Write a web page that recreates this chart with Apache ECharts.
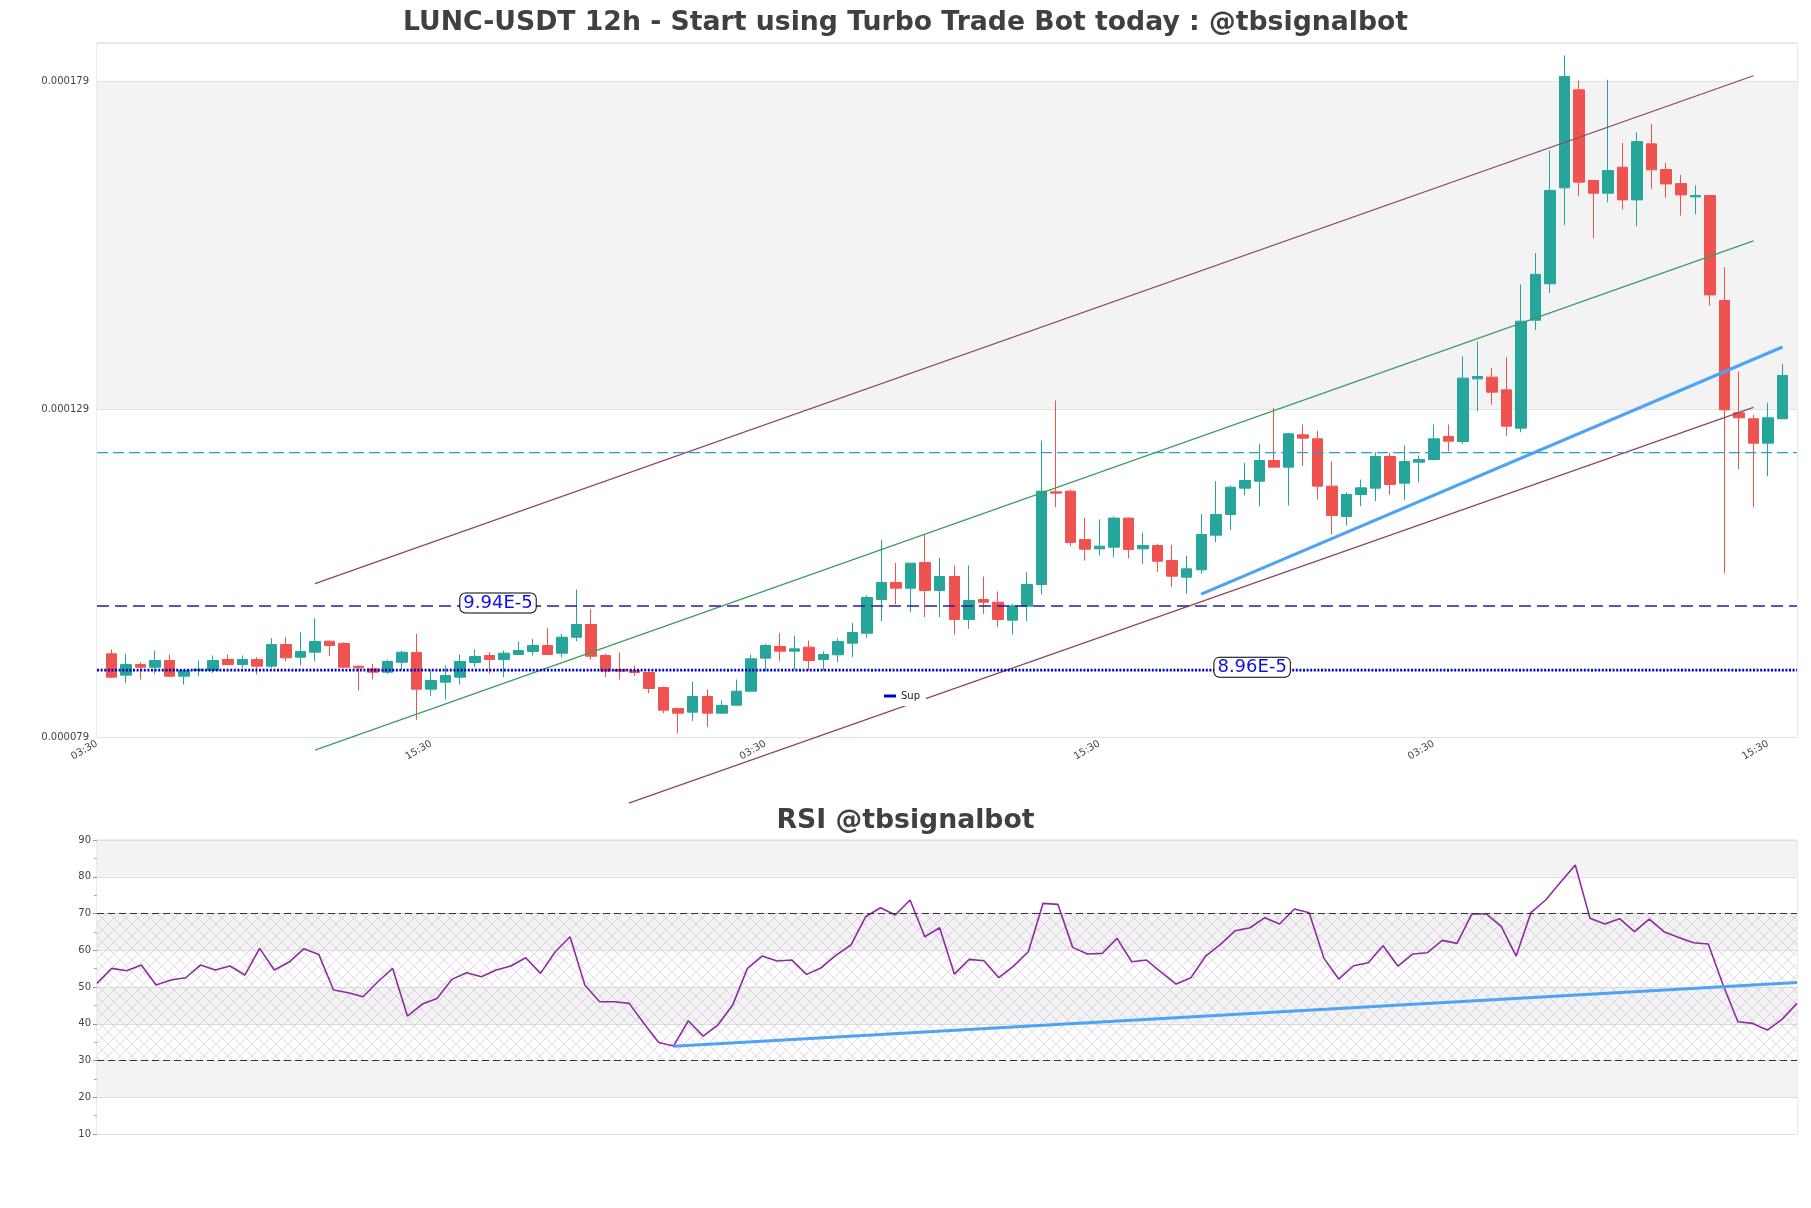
<!DOCTYPE html>
<html><head><meta charset="utf-8">
<script src="https://cdn.jsdelivr.net/npm/echarts@6/dist/echarts.min.js"></script>
<style>html,body{margin:0;padding:0;background:#fff}#c{width:1811px;height:1208px}</style>
</head><body><div id="c"></div>
<script>
// prices in units of 1e-6 USDT
const openE6 = [92.09,88.84,90.46,90.05,91.07,88.68,89.55,89.55,91.23,90.46,
91.23,90.21,93.51,91.58,92.35,94.02,93.67,90.21,89.8,89.29,
90.82,92.29,86.7,87.77,88.53,90.77,91.84,91.23,91.99,92.45,
93.36,92.19,94.63,96.56,91.84,89.7,89.55,89.24,86.95,83.75,
83.19,85.58,83.04,84.26,86.39,91.43,93.21,92.5,93.11,91.23,
91.94,93.72,95.24,100.38,102.98,102.11,106.03,101.76,103.89,97.33,
100.38,99.97,97.23,99.37,102.67,116.81,116.91,109.53,108.11,108.37,
112.8,108.11,108.62,106.33,103.79,104.91,110.2,113.35,117.37,118.44,
121.59,120.58,125.51,124.9,117.68,113.05,116.4,117.37,122.2,118.13,
121.34,121.74,125.26,124.49,134.05,134.31,132.37,126.53,143.0,148.56,
163.2,178.15,164.32,162.38,166.35,161.36,169.91,165.99,163.85,161.82,
162.02,146.0,128.87,127.96,124.24,127.96];
const closeE6 = [88.53,90.46,90.05,91.07,88.68,89.55,89.75,91.07,90.46,91.23,
90.21,93.51,91.48,92.45,93.97,93.36,90.05,89.95,89.29,90.92,
92.34,86.7,88.02,88.78,90.92,91.68,91.23,92.19,92.6,93.36,
91.99,94.63,96.56,91.73,89.45,89.45,89.24,86.8,83.49,83.04,
85.58,83.04,84.21,86.39,91.33,93.36,92.5,92.85,91.07,91.99,
93.97,95.35,100.69,102.98,102.11,105.93,101.76,103.89,97.33,100.23,
99.97,97.33,99.42,102.67,116.91,116.61,109.07,108.06,108.52,112.8,
108.01,108.62,106.23,103.94,105.06,110.3,113.35,117.52,118.54,121.59,
120.58,125.67,125.0,117.68,113.2,116.4,117.42,122.2,117.93,121.44,
121.74,124.9,124.54,134.16,134.41,132.02,126.83,142.85,150.0,162.8,
180.2,164.06,162.38,165.84,161.36,170.26,165.94,163.8,162.12,162.02,
146.86,129.32,128.11,124.24,128.11,134.57];
const lowE6 = [88.43,87.61,88.18,89.04,88.53,87.41,88.68,89.19,90.31,89.95,
88.94,89.95,90.97,90.31,90.97,91.73,89.95,86.5,88.18,89.04,
89.65,82.02,85.63,85.12,87.41,90.06,89.04,88.53,91.94,91.84,
91.99,91.58,94.02,91.23,88.53,88.17,88.73,86.09,83.04,79.98,
81.82,80.9,82.94,84.26,86.39,89.4,90.97,89.7,89.55,89.55,
90.82,91.58,94.53,97.08,99.62,98.45,97.69,97.69,95.04,95.91,
98.19,96.16,95.04,97.08,101.14,114.47,108.52,106.33,107.1,106.84,
106.69,105.82,104.55,102.26,101.25,104.3,109.13,111.0,116.25,114.62,
120.58,114.73,120.73,115.64,110.3,111.65,114.62,115.39,116.4,115.59,
118.29,121.59,122.96,124.14,129.12,130.08,125.31,125.9,141.5,147.14,
157.5,161.87,155.52,160.99,159.87,157.33,163.04,161.67,158.97,159.18,
145.19,104.4,120.3,114.47,119.2,127.96];
const highE6 = [92.75,92.09,90.82,92.6,91.99,89.55,91.07,91.84,91.99,91.84,
91.58,94.48,94.63,95.4,97.53,94.13,93.87,90.31,90.56,91.17,
92.6,95.14,89.7,90.31,91.99,92.75,92.34,92.6,93.97,94.38,
96.0,95.14,101.9,98.9,92.09,92.29,90.31,89.24,87.11,83.75,
87.87,86.65,84.97,88.17,91.99,93.62,95.3,94.89,94.13,92.45,
94.48,96.82,100.99,109.49,105.93,105.93,110.4,106.74,105.57,105.57,
103.89,101.61,99.72,104.55,124.64,130.75,117.16,112.8,112.6,113.05,
112.9,110.56,108.88,108.73,107.07,113.45,118.44,117.78,121.24,124.14,
129.63,125.82,127.09,126.12,121.44,116.76,118.69,122.86,122.76,123.88,
122.35,127.09,127.09,137.46,139.74,135.68,137.36,148.45,153.26,168.9,
183.4,179.58,164.32,179.68,170.06,171.69,172.96,167.0,165.18,163.55,
162.02,151.1,135.2,128.57,130.4,136.35];
const rsiVals = [50.98,55.06,54.43,55.97,50.53,51.89,52.52,55.97,54.61,55.7,
53.25,60.51,54.61,56.79,60.42,58.87,49.17,48.44,47.35,51.43,
55.06,42.09,45.35,46.9,52.07,53.88,52.8,54.61,55.7,57.97,
53.7,59.6,63.68,50.53,45.99,45.99,45.54,40.09,34.92,33.92,
40.82,36.64,39.64,45.08,55.06,58.42,57.06,57.33,53.43,55.25,
58.69,61.42,69.13,71.58,69.58,73.67,63.68,66.13,53.52,57.51,
57.15,52.52,55.7,59.6,72.76,72.49,60.78,58.97,59.15,63.23,
56.88,57.33,53.97,50.8,52.52,58.42,61.6,65.32,66.13,68.86,
67.13,71.22,70.22,57.79,52.16,55.79,56.61,61.23,55.7,58.97,
59.33,62.69,61.87,69.85,69.85,66.41,58.42,70.22,73.67,78.48,
83.19,68.68,67.13,68.58,65.05,68.49,65.05,63.5,62.05,61.69,
50.53,40.54,40.09,38.28,41.27,45.54];
// x tick labels (slot index in padded candle axis)
const xTickIdx = [0, 23, 46, 69, 92, 115];
const xTickLabels = ['03:30','15:30','03:30','15:30','03:30','15:30'];
// lines [candleIndex, price e-6]
const chanUpper = [[14, 102.8], [113, 180.3]];
const chanMid = [[14, 77.4], [113, 155.1]];
const chanLower = [[35.6, 69.3], [113, 129.7]];
const trendBlue = [[75, 101.2], [115, 138.9]];
const resLevel = 99.4;
const supLevel = 89.6;
const midLevel = 122.8;
const rsiTrend = [[39, 33.9], [115, 51.2]];
const rsiBands = [30, 70];

const N = openE6.length;
const candleRows = openE6.map((o, i) => [i + 1, o, closeE6[i], lowE6[i], highE6[i]]);
const xCats = Array.from({length: N + 2}, (_, k) => String(k));
const rsiCats = rsiVals.map((_, i) => String(i));
const yMin = 79.4, yMax = 185.3;
const levelLabelX = [26.6, 78.5];

function makeHatch() {
  const c = document.createElement('canvas'); c.width = 12; c.height = 12;
  const g = c.getContext('2d');
  g.strokeStyle = 'rgba(190,165,205,0.55)'; g.lineWidth = 0.8;
  g.beginPath(); g.moveTo(0, 0); g.lineTo(12, 12); g.moveTo(12, 0); g.lineTo(0, 12); g.stroke();
  return c;
}
const F = 'DejaVu Sans';
const hLine = (v) => [[-1, v], [N, v]];
const lineS = (name, data, color, width, type, extra) => Object.assign({
  name, type: 'line', xAxisIndex: 1, yAxisIndex: 0, data, symbol: 'none', silent: true,
  clip: false, color, lineStyle: {color, width, type: type || 'solid'}, z: 3, animation: false
}, extra || {});

const chart = echarts.init(document.getElementById('c'), null, {renderer: 'canvas'});
chart.setOption({
  animation: false,
  backgroundColor: '#ffffff',
  textStyle: {fontFamily: F},
  title: [
    {text: 'LUNC-USDT 12h - Start using Turbo Trade Bot today : @tbsignalbot', left: 'center', top: 10,
     padding: 0, textStyle: {fontFamily: F, fontWeight: 'bold', fontSize: 26.7, color: '#404040'}},
    {text: 'RSI @tbsignalbot', left: 'center', top: 808, padding: 0,
     textStyle: {fontFamily: F, fontWeight: 'bold', fontSize: 26.7, color: '#404040'}}
  ],
  legend: {data: [{name: 'Sup', icon: 'rect'}], left: 878, top: 686, itemWidth: 12, itemHeight: 3,
    backgroundColor: '#ffffff', padding: [5, 6], selectedMode: false,
    textStyle: {fontFamily: F, fontSize: 10, color: '#222'}},
  grid: [
    {left: 97, right: 14, top: 43, height: 694, show: true, borderColor: '#d6d6d6', borderWidth: 1},
    {left: 97, right: 14, top: 840, height: 294, show: true, borderColor: '#d6d6d6', borderWidth: 1}
  ],
  xAxis: [
    {type: 'category', gridIndex: 0, data: xCats, boundaryGap: false,
     axisLine: {show: false}, axisTick: {show: false}, splitLine: {show: false},
     axisLabel: {interval: (i) => xTickIdx.includes(i),
       formatter: (v, i) => { const k = xTickIdx.indexOf(i); return k < 0 ? '' : xTickLabels[k]; },
       rotate: 30, fontSize: 10, color: '#444', margin: 6, fontFamily: F}},
    {type: 'value', gridIndex: 0, min: -1, max: N, show: false},
    {type: 'category', gridIndex: 1, data: rsiCats, boundaryGap: false,
     axisLine: {show: false}, axisTick: {show: false}, axisLabel: {show: false}, splitLine: {show: false}}
  ],
  yAxis: [
    {type: 'value', gridIndex: 0, min: yMin, max: yMax, interval: 50,
     axisLine: {show: false}, axisTick: {show: false},
     axisLabel: {formatter: (v) => v > yMax - 0.5 ? '' : (v * 1e-6).toFixed(6), fontSize: 10, color: '#444', fontFamily: F, margin: 8},
     splitLine: {show: true, lineStyle: {color: '#e2e2e2', width: 1}},
     splitArea: {show: true, areaStyle: {color: ['#ffffff', '#f3f3f3']}}},
    {type: 'value', gridIndex: 1, min: 10, max: 90, interval: 10,
     axisLine: {show: false}, axisTick: {show: true, length: 4, lineStyle: {color: '#999'}},
     minorTick: {show: true, splitNumber: 2, length: 3, lineStyle: {color: '#aaa'}},
     axisLabel: {fontSize: 10, color: '#444', fontFamily: F, margin: 6},
     splitLine: {show: true, lineStyle: {color: '#dedede', width: 1}},
     splitArea: {show: true, areaStyle: {color: ['#ffffff', '#f3f3f3']}}}
  ],
  series: [
    {name: 'Price', type: 'candlestick', xAxisIndex: 0, yAxisIndex: 0, data: candleRows,
     encode: {x: 0, y: [1, 2, 3, 4]}, barWidth: 11, z: 2,
     itemStyle: {color: '#26a69a', color0: '#ef5350', borderColor: '#26a69a', borderColor0: '#ef5350', borderWidth: 1}},
    lineS('Upper', chanUpper, '#8e4466', 1.2),
    lineS('Mid', chanMid, '#3a9f5c', 1.2),
    lineS('Lower', chanLower, '#8e4466', 1.2),
    lineS('Trend', trendBlue, '#4ea3f2', 3.2),
    lineS('Level', hLine(midLevel), '#2a9fd6', 1.3, [11, 5]),
    lineS('Res', hLine(resLevel), '#2b1b9e', 1.4, [12, 6]),
    lineS('Sup', hLine(supLevel), '#0000cc', 2.6, [2, 1.6]),
    {name: 'LevelLabels', type: 'scatter', xAxisIndex: 1, yAxisIndex: 0, symbolSize: 1, z: 6,
     itemStyle: {color: 'rgba(255,255,255,0)'}, silent: true,
     data: [[levelLabelX[0], resLevel], [levelLabelX[1], supLevel]],
     label: {show: true, position: 'inside', offset: [0, -3], fontFamily: F, fontSize: 18, color: '#1010e0', opacity: 1,
       backgroundColor: '#ffffff', borderColor: '#000000', borderWidth: 1, borderRadius: 5, padding: [1, 3, 0, 3],
       formatter: (p) => (p.value[1] * 1e-6).toExponential(2).toUpperCase()}},
    {name: 'RSI', type: 'line', xAxisIndex: 2, yAxisIndex: 1, data: rsiVals, symbol: 'none', silent: true,
     color: '#8e2ba0', lineStyle: {color: '#8e2ba0', width: 1.6}, z: 3,
     markLine: {silent: true, symbol: ['none', 'none'], label: {show: false},
       lineStyle: {color: '#333333', type: [7, 4], width: 1.2},
       data: rsiBands.map((v) => ({yAxis: v}))},
     markArea: {silent: true, itemStyle: {color: {image: makeHatch(), repeat: 'repeat'}},
       data: [[{yAxis: rsiBands[0]}, {yAxis: rsiBands[1]}]]}},
    {name: 'RSI Trend', type: 'line', xAxisIndex: 2, yAxisIndex: 1, data: rsiTrend, symbol: 'none', silent: true,
     color: '#4ea3f2', lineStyle: {color: '#4ea3f2', width: 3}, z: 4}
  ]
});
</script></body></html>
